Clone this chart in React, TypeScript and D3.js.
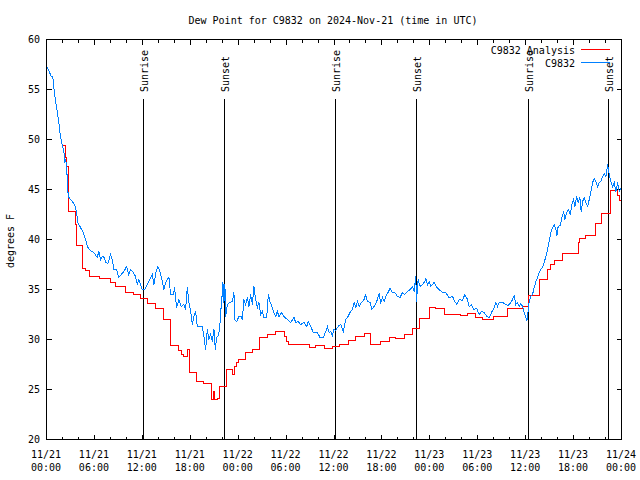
import React from "react";
import * as d3 from "d3";

const TITLE = "Dew Point for C9832 on 2024-Nov-21 (time in UTC)";
const Y_LABEL = "degrees F";
const START = Date.UTC(2024, 10, 21, 0, 0);
const SPAN_HOURS = 72;

const seriesNames = ["C9832 Analysis", "C9832"];
const seriesColors = ["#ff0000", "#0080ff"];

// Observations (hours since 11/21 00:00 UTC, degrees F)
const obsHours = [
  0, 0.29, 0.59, 0.79, 0.91, 1.13, 1.34, 1.54, 1.75, 1.97,
  2.17, 2.29, 2.42, 2.59, 2.72, 2.92, 3.22, 3.51, 3.76, 3.92,
  4.26, 4.6, 4.89, 5.18, 5.51, 5.93, 6.35, 6.55, 6.77, 6.98,
  7.27, 7.39, 7.68, 8.02, 8.23, 8.43, 8.77, 9.06, 9.36, 9.69,
  10.03, 10.28, 10.53, 10.86, 11.15, 11.37, 11.57, 11.78, 11.99, 12.28,
  12.62, 12.94, 13.25, 13.45, 13.7, 13.95, 14.2, 14.45, 14.7, 14.91,
  15.13, 15.33, 15.54, 15.88, 16.04, 16.29, 16.58, 16.88, 17.21, 17.42,
  17.63, 17.83, 18.05, 18.26, 18.46, 18.67, 18.88, 19.51, 19.71, 19.92,
  20.14, 20.34, 20.55, 20.76, 20.97, 21.14, 21.3, 21.47, 21.68, 21.8,
  21.93, 22.09, 22.22, 22.34, 22.43, 22.64, 22.97, 23.27, 23.47, 23.56,
  23.81, 24.1, 24.4, 24.52, 24.72, 24.94, 25.15, 25.35, 25.56, 25.78,
  25.98, 26.19, 26.4, 26.6, 26.82, 27.03, 27.23, 27.57, 27.78, 27.98,
  28.28, 28.48, 28.7, 28.91, 29.11, 29.41, 29.74, 30.16, 30.58, 30.99,
  31.2, 31.49, 31.83, 32.24, 32.58, 32.79, 33.08, 33.42, 33.92, 34.25,
  34.67, 34.96, 35.18, 35.38, 35.59, 35.8, 36.0, 36.22, 36.43, 36.63,
  36.84, 37.18, 37.47, 37.76, 38.01, 38.31, 38.51, 38.72, 38.94, 39.14,
  39.44, 39.76, 39.97, 40.19, 40.51, 40.73, 41.02, 41.35, 41.64, 41.85,
  42.07, 42.27, 42.48, 42.77, 43.02, 43.32, 43.61, 43.95, 44.27, 44.57,
  44.86, 45.2, 45.53, 45.83, 46.03, 46.24, 46.33, 46.53, 46.78, 47.08,
  47.37, 47.49, 47.71, 47.91, 48.12, 48.53, 48.87, 49.16, 49.59, 50.0,
  50.41, 50.84, 51.13, 51.38, 51.67, 52.09, 52.38, 52.72, 52.92, 53.22,
  53.47, 53.88, 54.17, 54.47, 54.8, 55.14, 55.43, 55.73, 56.05, 56.27,
  56.48, 56.68, 57.11, 57.52, 57.81, 58.15, 58.36, 58.56, 58.77, 58.98,
  59.19, 59.4, 59.61, 59.81, 60.03, 60.15, 60.31, 60.44, 60.65, 60.86,
  61.07, 61.28, 61.49, 61.69, 61.9, 62.12, 62.32, 62.53, 62.74, 62.94,
  63.16, 63.37, 63.57, 63.78, 63.91, 64.07, 64.32, 64.54, 64.75, 64.91,
  65.12, 65.38, 65.58, 65.79, 66.0, 66.17, 66.38, 66.58, 66.79, 66.95,
  67.13, 67.33, 67.54, 67.76, 67.96, 68.17, 68.38, 68.58, 68.8, 69.01,
  69.21, 69.42, 69.64, 69.84, 70.05, 70.26, 70.46, 70.68, 70.89, 71.09,
  71.3, 71.51, 71.72, 71.93, 72.0,
];
const obsValues = [
  57.3, 56.9, 56.3, 56.3, 55.3, 53.8, 52.8, 51.7, 50.3, 49.4,
  48.8, 47.8, 48.0, 46.3, 44.3, 44.1, 43.8, 43.5, 42.7, 41.7,
  41.2, 40.7, 40.0, 39.2, 38.9, 38.7, 38.2, 38.8, 38.0, 38.3,
  38.2, 37.7, 37.6, 38.5, 38.0, 37.0, 37.0, 36.2, 36.5, 36.8,
  37.3, 36.5, 37.0, 36.7, 36.3, 35.5, 36.0, 35.5, 35.0, 35.0,
  35.5, 36.0, 36.5, 35.5, 36.7, 37.3, 36.8, 36.0, 35.0, 35.7,
  36.0, 36.2, 34.5, 34.5, 35.2, 33.2, 34.0, 33.3, 33.5, 33.0,
  35.2, 33.7, 32.8, 31.5, 32.3, 32.8, 31.3, 31.3, 30.3, 29.0,
  31.0, 30.0, 30.5, 29.8, 31.0, 29.0, 30.2, 30.3, 31.0, 32.7,
  33.7, 35.7, 33.7, 35.5, 32.3, 33.5, 33.7, 33.8, 34.7, 32.0,
  31.8, 32.3, 32.3, 32.0, 34.0, 33.5, 34.2, 33.3, 34.5, 33.5,
  35.3, 34.0, 33.2, 33.7, 32.5, 32.8, 32.2, 32.2, 34.5, 33.8,
  33.2, 32.7, 32.3, 32.8, 32.3, 32.7, 32.3, 32.0, 31.7, 32.2,
  31.7, 31.8, 31.5, 31.7, 31.3, 31.8, 31.3, 30.7, 30.7, 30.2,
  30.2, 30.8, 31.3, 30.7, 30.8, 30.4, 31.0, 30.9, 31.2, 31.4,
  31.5, 30.8, 32.0, 32.3, 32.7, 33.0, 33.7, 33.2, 33.8, 33.3,
  33.7, 34.0, 34.5, 33.8, 33.7, 33.0, 33.3, 33.8, 34.6, 33.7,
  34.2, 33.8, 34.3, 34.7, 35.1, 34.7, 34.7, 34.3, 34.2, 34.7,
  34.5, 34.8, 35.0, 35.3, 34.8, 36.3, 33.8, 36.0, 35.3, 35.5,
  35.8, 36.1, 35.5, 35.8, 35.3, 35.7, 35.2, 35.0, 34.7, 34.7,
  34.2, 34.3, 33.8, 33.5, 34.0, 33.9, 34.5, 34.0, 33.3, 33.5,
  33.0, 33.1, 32.5, 32.8, 32.7, 32.3, 32.2, 32.7, 33.2, 33.7,
  33.3, 33.7, 33.7, 33.5, 33.4, 33.7, 34.0, 34.4, 33.5, 33.7,
  33.3, 33.6, 33.3, 32.7, 32.2, 31.9, 32.8, 33.8, 34.3, 34.5,
  35.2, 35.8, 36.2, 36.7, 37.0, 37.2, 37.7, 38.3, 39.0, 39.8,
  40.7, 41.2, 41.5, 41.0, 40.4, 41.3, 41.4, 42.2, 42.8, 42.0,
  42.7, 43.0, 42.5, 43.5, 44.0, 43.3, 44.3, 43.7, 44.2, 42.8,
  43.8, 44.2, 43.7, 43.3, 44.0, 44.8, 45.7, 46.1, 45.8, 45.3,
  45.7, 45.8, 46.3, 46.6, 46.3, 47.5, 46.5, 45.8, 45.3, 45.7,
  44.8, 45.7, 44.8, 45.1, 45.0,
];

// Analysis (step values: hour where each value starts)
const anaHours = [
  1.97, 2.4, 2.55, 2.7, 2.8, 3.57, 3.7, 4.51, 4.89, 5.39,
  6.64, 8.02, 8.65, 9.9, 10.9, 11.78, 12.62, 13.66, 14.66, 15.54,
  16.54, 16.85, 17.17, 17.63, 17.86, 18.73, 19.71, 20.68, 20.86, 21.05,
  21.39, 21.72, 22.56, 23.31, 23.56, 23.85, 24.1, 24.94, 25.78, 26.65,
  27.69, 28.73, 29.74, 30.0, 30.25, 32.87, 33.71, 34.75, 35.8, 36.63,
  37.76, 38.72, 39.76, 40.6, 41.77, 42.89, 43.73, 44.77, 45.83, 46.65,
  47.9, 48.75, 49.79, 51.88, 52.72, 53.76, 54.6, 56.0, 57.73, 59.61,
  60.3, 61.69, 62.74, 63.16, 63.57, 64.62, 66.58, 66.75, 67.54, 68.8,
  69.51, 70.58, 71.55, 71.8, 72.0,
];
const anaValues = [
  49.4, 48.2, 47.3, 43.9, 42.8, 41.5, 39.4, 37.1, 36.9, 36.3,
  36.1, 35.7, 35.3, 34.7, 34.5, 34.1, 33.6, 33.1, 32.0, 29.4,
  28.9, 28.5, 28.3, 29.0, 26.7, 25.8, 25.6, 24.0, 24.8, 24.0,
  24.1, 25.3, 27.0, 26.5, 27.3, 27.7, 28.0, 28.7, 29.0, 30.2,
  30.5, 30.8, 30.3, 29.8, 29.5, 29.2, 29.4, 29.1, 29.3, 29.5,
  29.9, 30.3, 30.6, 29.5, 29.8, 30.2, 30.1, 30.5, 31.1, 32.1,
  33.2, 33.1, 32.5, 32.4, 32.6, 32.2, 32.0, 32.3, 33.1, 33.3,
  34.4, 36.0, 37.0, 37.5, 37.9, 38.6, 39.7, 40.1, 40.4, 41.6,
  42.6, 44.9, 44.4, 43.9, 43.9,
];

const sunriseHours = [12.2, 36.25, 60.3];
const sunsetHours = [22.35, 46.35, 70.35];
const yTicks = [20, 25, 30, 35, 40, 45, 50, 55, 60];

const MONO = "'DejaVu Sans Mono', 'Liberation Mono', monospace";

const L = 46.5;
const R = 621.5;
const T = 39.5;
const B = 439.5;

const toDate = (h: number) => new Date(START + h * 3600000);
const crisp = (v: number) => Math.floor(v) + 0.5;

export default function App() {
  const x = d3.scaleUtc().domain([toDate(0), toDate(SPAN_HOURS)]).range([L, R]);
  const y = d3.scaleLinear().domain([20, 60]).range([B, T]);

  const end = new Date(START + SPAN_HOURS * 3600000 + 1);
  const majorTicks = d3.utcHour.every(6)!.range(toDate(0), end);
  const minorTicks = d3.utcHour.every(2)!.range(toDate(0), end);
  const fmtDay = d3.utcFormat("%m/%d");
  const fmtTime = d3.utcFormat("%H:%M");

  const obs = obsHours.map((h, i) => [x(toDate(h)), y(obsValues[i])] as [number, number]);
  const ana = anaHours.map((h, i) => [x(toDate(h)), y(anaValues[i])] as [number, number]);

  const obsPath = d3.line()(obs) || "";
  const anaPath = d3.line().curve(d3.curveStepAfter)(ana) || "";

  const sunEvents = [
    ...sunriseHours.map((h) => ({ h, label: "Sunrise" })),
    ...sunsetHours.map((h) => ({ h, label: "Sunset" })),
  ];

  return (
    <svg
      width={640}
      height={480}
      viewBox="0 0 640 480"
      style={{ position: "absolute", left: 0, top: 0, background: "#fff" }}
      fontFamily={MONO}
      fontSize={10}
    >
      <rect x={0} y={0} width={640} height={480} fill="#fff" />
      <defs>
        <clipPath id="plot">
          <rect x={L} y={T} width={R - L} height={B - T} />
        </clipPath>
      </defs>

      {/* title */}
      <text x={333} y={24} textAnchor="middle" fill="#000">
        {TITLE}
      </text>

      {/* y label */}
      <text
        transform="translate(14,241) rotate(-90)"
        textAnchor="middle"
        fill="#000"
      >
        {Y_LABEL}
      </text>

      {/* y ticks and labels */}
      {yTicks.map((v) => {
        const yy = crisp(y(v));
        return (
          <g key={"y" + v} shapeRendering="crispEdges">
            <line x1={L} x2={L + 5} y1={yy} y2={yy} stroke="#000" />
            <line x1={R} x2={R - 5} y1={yy} y2={yy} stroke="#000" />
            <text x={40} y={y(v) + 3.6} textAnchor="end" fill="#000">
              {v}
            </text>
          </g>
        );
      })}

      {/* x ticks */}
      {minorTicks.map((d, i) => {
        const xx = crisp(x(d));
        const major = d.getUTCHours() % 6 === 0;
        const len = major ? 5 : 3;
        return (
          <g key={"xt" + i} shapeRendering="crispEdges">
            <line x1={xx} x2={xx} y1={B} y2={B - len} stroke="#000" />
            <line x1={xx} x2={xx} y1={T} y2={T + len} stroke="#000" />
          </g>
        );
      })}
      {majorTicks.map((d, i) => (
        <g key={"xl" + i} fill="#000">
          <text x={x(d) - 0.5} y={458} textAnchor="middle">
            {fmtDay(d)}
          </text>
          <text x={x(d) - 0.5} y={470.5} textAnchor="middle">
            {fmtTime(d)}
          </text>
        </g>
      ))}

      {/* sunrise / sunset markers */}
      {sunEvents.map((e, i) => {
        const xx = crisp(x(toDate(e.h)));
        return (
          <g key={"sun" + i}>
            <line
              x1={xx}
              x2={xx}
              y1={99}
              y2={B}
              stroke="#000"
              shapeRendering="crispEdges"
            />
            <text
              transform={`translate(${xx + 4.7},92) rotate(-90)`}
              textAnchor="start"
              fill="#000"
            >
              {e.label}
            </text>
          </g>
        );
      })}

      {/* data */}
      <g clipPath="url(#plot)">
        <path d={anaPath} fill="none" stroke={seriesColors[0]} strokeWidth={1} shapeRendering="crispEdges" />
        <path d={obsPath} fill="none" stroke={seriesColors[1]} strokeWidth={1} shapeRendering="crispEdges" />
      </g>

      {/* legend */}
      {seriesNames.map((name, i) => {
        const ly = 49.5 + i * 13;
        return (
          <g key={"lg" + i}>
            <text x={575} y={ly + 4} textAnchor="end" fill="#000">
              {name}
            </text>
            <line
              x1={581}
              x2={610}
              y1={ly}
              y2={ly}
              stroke={seriesColors[i]}
              shapeRendering="crispEdges"
            />
          </g>
        );
      })}

      {/* border */}
      <rect
        x={L}
        y={T}
        width={R - L}
        height={B - T}
        fill="none"
        stroke="#000"
        shapeRendering="crispEdges"
      />
    </svg>
  );
}
